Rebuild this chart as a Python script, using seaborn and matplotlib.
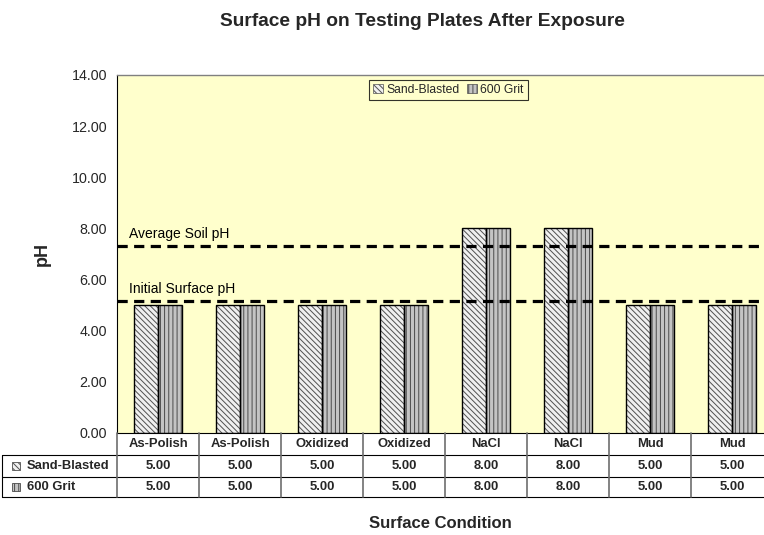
import numpy as np
import pandas as pd
import seaborn as sns
import matplotlib
matplotlib.use("Agg")
import matplotlib.pyplot as plt
from matplotlib import transforms
from matplotlib.patches import Rectangle, Patch
from matplotlib.lines import Line2D

# ---- data ----
conditions = ["As-Polish", "As-Polish", "Oxidized", "Oxidized", "NaCl", "NaCl", "Mud", "Mud"]
series_names = ["Sand-Blasted", "600 Grit"]
sand_blasted = [5.00, 5.00, 5.00, 5.00, 8.00, 8.00, 5.00, 5.00]
grit_600 = [5.00, 5.00, 5.00, 5.00, 8.00, 8.00, 5.00, 5.00]
reference_lines = {"Average Soil pH": 7.30, "Initial Surface pH": 5.15}
y_ticks = [0, 2, 4, 6, 8, 10, 12, 14]

# ---- styling ----
sns.set_style("white")
plt.rcParams["font.family"] = ["Liberation Sans", "DejaVu Sans"]
plt.rcParams["hatch.linewidth"] = 0.7

W, H = 764, 535
fig = plt.figure(figsize=(W / 100, H / 100), dpi=100)
ax_left, ax_right, ax_top, ax_bottom = 117, 773, 75, 433
ax = fig.add_axes([ax_left / W, 1 - ax_bottom / H,
                   (ax_right - ax_left) / W, (ax_bottom - ax_top) / H])
ax.set_facecolor("#FFFFCC")

df = pd.DataFrame({
    "slot": list(range(len(conditions))) * 2,
    "series": [series_names[0]] * len(conditions) + [series_names[1]] * len(conditions),
    "pH": sand_blasted + grit_600,
})

sns.barplot(data=df, x="slot", y="pH", hue="series", hue_order=series_names,
            width=0.585, dodge=True, legend=False, errorbar=None, ax=ax,
            palette=["white", "#B8B8B8"], saturation=1)

styles = {
    0: dict(face="#F0F0F0", hatch="\\\\\\\\\\\\", hcolor="#505050"),
    1: dict(face="#C4C4C4", hatch="||||", hcolor="#4A4A4A"),
}
for k, cont in enumerate(ax.containers):
    st = styles[k]
    for bar in cont:
        bar.set_facecolor(st["face"])
        bar.set_hatch(st["hatch"])
        bar.set_edgecolor(st["hcolor"])
        bar.set_linewidth(0)
        x0, y0 = bar.get_xy()
        ax.add_patch(Rectangle((x0, y0), bar.get_width(), bar.get_height(),
                               fill=False, edgecolor="black", linewidth=1.0, zorder=3))

# reference lines with labels
for label, val in reference_lines.items():
    ax.axhline(val, color="black", linewidth=2.3, linestyle=(0, (3.2, 2.0)), zorder=4)
    ax.annotate(label, xy=(-0.355, val), xytext=(0, 4), textcoords="offset points",
                fontsize=10, ha="left", va="bottom", color="black")

ax.set_xlim(-0.5, len(conditions) - 0.5)
ax.set_ylim(0, 14)
ax.set_yticks(y_ticks)
ax.set_yticklabels([f"{v:.2f}" for v in y_ticks], fontsize=10.3)
ax.set_xticks([])
ax.set_xlabel("")
ax.set_ylabel("pH", fontsize=13, fontweight="bold", labelpad=15)
ax.tick_params(axis="y", direction="out", length=5, width=0.8, color="black", pad=2)
for s in ["left", "bottom"]:
    ax.spines[s].set_color("black")
    ax.spines[s].set_linewidth(0.8)
ax.spines["top"].set_color("#808080")
ax.spines["top"].set_linewidth(1.0)
ax.spines["right"].set_visible(False)

# legend
handles = [Patch(facecolor=styles[k]["face"], hatch=styles[k]["hatch"],
                 edgecolor=styles[k]["hcolor"], linewidth=0.5) for k in range(2)]
leg = ax.legend(handles, series_names, loc="center", bbox_to_anchor=(0.505, 0.958),
                ncol=2, fontsize=8.7, frameon=True, fancybox=False,
                handlelength=0.8, handleheight=0.8, handletextpad=0.3,
                columnspacing=0.6, borderpad=0.35)
leg.get_frame().set_edgecolor("black")
leg.get_frame().set_linewidth(0.8)
leg.get_frame().set_facecolor("#FFFFCC")

# ---- data table under the plot ----
tr = transforms.blended_transform_factory(ax.transData, fig.transFigure)
def fy(p):
    return 1 - p / H

row_edges = [433, 455, 477, 497]
n = len(conditions)
xl, xr = -0.5, n - 0.5
# horizontal rules
for i, yy in enumerate(row_edges):
    if i == 0:
        continue
    fig.add_artist(Line2D([2 / W, 1.0], [fy(yy), fy(yy)], transform=fig.transFigure,
                          color="black", linewidth=0.8, clip_on=False))
# vertical rules between columns
for c in range(n + 1):
    xc = xl + c
    fig.add_artist(Line2D([xc, xc], [fy(433), fy(497)], transform=tr,
                          color="#6E6E6E", linewidth=1.2, clip_on=False))
fig.add_artist(Line2D([2 / W, 2 / W], [fy(455), fy(497)], transform=fig.transFigure,
                      color="black", linewidth=0.8, clip_on=False))

# header row: condition names
for i, name in enumerate(conditions):
    fig.text(i, fy(444), name, transform=tr, ha="center", va="center",
             fontsize=9.4, fontweight="bold")
# data rows
for r, (sname, vals) in enumerate(zip(series_names, [sand_blasted, grit_600])):
    yc = (row_edges[r + 1] + row_edges[r + 2]) / 2
    fig.add_artist(Rectangle((12 / W, fy(yc + 4)), 8 / W, 8 / H, transform=fig.transFigure,
                             facecolor=styles[r]["face"], hatch=styles[r]["hatch"],
                             edgecolor=styles[r]["hcolor"], linewidth=0.6))
    fig.text(27 / W, fy(yc), sname, ha="left", va="center", fontsize=9.4, fontweight="bold")
    for i, v in enumerate(vals):
        fig.text(i, fy(yc), f"{v:.2f}", transform=tr, ha="center", va="center",
                 fontsize=9.4, fontweight="bold")

fig.text(422 / W, fy(22), "Surface pH on Testing Plates After Exposure",
         ha="center", va="center", fontsize=13.8, fontweight="bold")
fig.text(440 / W, fy(524), "Surface Condition", ha="center", va="center",
         fontsize=12, fontweight="bold")

fig.savefig("out.png", dpi=100, facecolor="white")
